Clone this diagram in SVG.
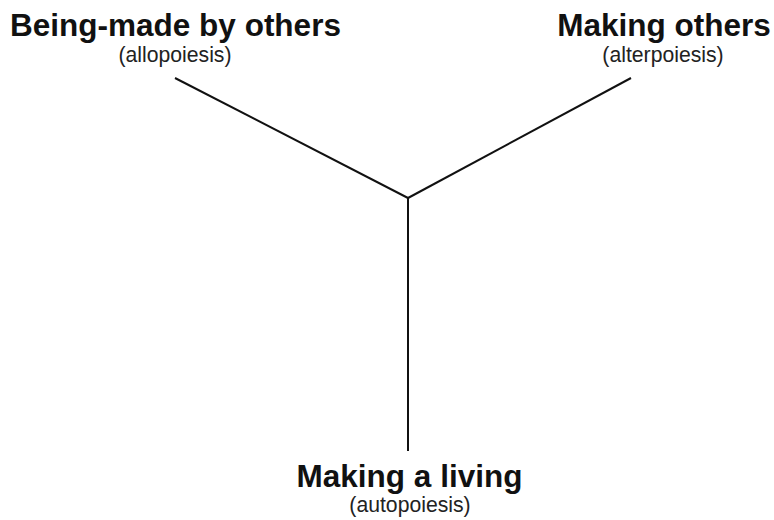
<svg xmlns="http://www.w3.org/2000/svg" width="774" height="520" viewBox="0 0 774 520">
<style>
.t{font-family:"Liberation Sans",Arial,sans-serif;font-weight:bold;font-size:31.5px;fill:#111;text-anchor:middle}
.s{font-family:"Liberation Sans",Arial,sans-serif;font-size:21.2px;fill:#222;text-anchor:middle}
.c{stroke:#111;stroke-width:2;fill:none}
</style>
<rect width="774" height="520" fill="#fff"/>
<g id="connectors">
<line class="c" x1="175" y1="78" x2="408" y2="198"/>
<line class="c" x1="631" y1="78" x2="408" y2="198"/>
<line class="c" x1="408" y1="198" x2="408" y2="451"/>
</g>
<g id="allopoiesis">
<text class="t" x="175.5" y="35.5">Being-made by others</text>
<text class="s" x="175" y="62">(allopoiesis)</text>
</g>
<g id="alterpoiesis">
<text class="t" x="664" y="35.5">Making others</text>
<text class="s" x="663" y="62">(alterpoiesis)</text>
</g>
<g id="autopoiesis">
<text class="t" x="409.5" y="487">Making a living</text>
<text class="s" x="410" y="512">(autopoiesis)</text>
</g>
</svg>
